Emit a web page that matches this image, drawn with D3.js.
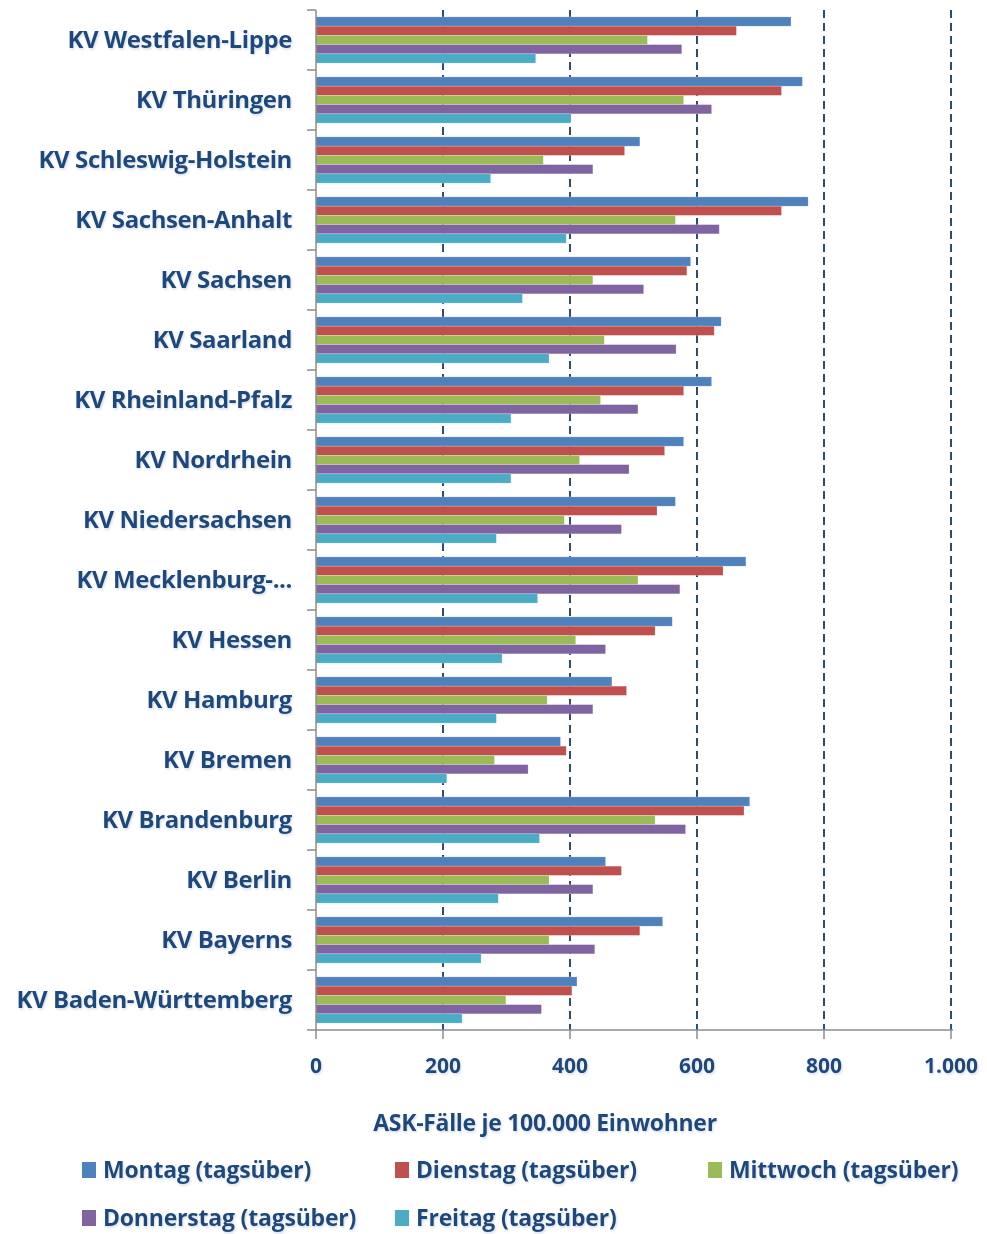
<!DOCTYPE html>
<html lang="de">
<head>
  <meta charset="utf-8">
  <script src="https://d3js.org/d3.v7.min.js"></script>
  <style>
    body { margin: 0; background: #fff; }
    svg text { font-family: "Open Sans", sans-serif; fill: #1F497D; font-weight: bold; }
    .cat-label { font-size: 24px; letter-spacing: -0.4px; }
    .tick-label { font-size: 21px; }
    .axis-title { font-size: 23px; letter-spacing: -0.3px; }
    .legend-label { font-size: 23px; letter-spacing: -0.2px; }
  </style>
</head>
<body>
<svg id="chart" width="987" height="1234"></svg>
<script>
  // Categories, top to bottom as drawn
  const categories = [
    "KV Westfalen-Lippe", "KV Thüringen", "KV Schleswig-Holstein", "KV Sachsen-Anhalt",
    "KV Sachsen", "KV Saarland", "KV Rheinland-Pfalz", "KV Nordrhein",
    "KV Niedersachsen", "KV Mecklenburg-...", "KV Hessen", "KV Hamburg",
    "KV Bremen", "KV Brandenburg", "KV Berlin", "KV Bayerns", "KV Baden-Württemberg"
  ];

  const seriesNames = [
    "Montag (tagsüber)", "Dienstag (tagsüber)", "Mittwoch (tagsüber)",
    "Donnerstag (tagsüber)", "Freitag (tagsüber)"
  ];
  const seriesColors = ["#4F81BD", "#C0504D", "#9BBB59", "#8064A2", "#4BACC6"];

  // values in the same order as categories
  const montag     = [748, 766, 510, 775, 590, 638, 623, 579, 566, 677, 561, 466, 385, 683, 456, 546, 411];
  const dienstag   = [662, 733, 486, 733, 584, 627, 579, 549, 537, 641, 534, 489, 394, 674, 481, 510, 403];
  const mittwoch   = [522, 579, 358, 566, 436, 454, 448, 415, 391, 507, 409, 364, 281, 534, 367, 367, 299];
  const donnerstag = [576, 623, 436, 635, 516, 567, 507, 493, 481, 573, 456, 436, 334, 582, 436, 439, 355];
  const freitag    = [346, 401, 275, 394, 325, 367, 307, 307, 284, 349, 293, 284, 206, 352, 287, 260, 230];

  const xTicks = [0, 200, 400, 600, 800, 1000];
  const xTickLabels = ["0", "200", "400", "600", "800", "1.000"];
  const axisTitle = "ASK-Fälle je 100.000 Einwohner";

  const seriesValues = [montag, dienstag, mittwoch, donnerstag, freitag];

  const svg = d3.select("#chart");

  // soft shadow behind the texts
  const defs = svg.append("defs");
  defs.append("filter")
    .attr("id", "shadow")
    .attr("x", "-5%").attr("y", "-20%").attr("width", "110%").attr("height", "150%")
    .append("feDropShadow")
    .attr("dx", 1).attr("dy", 1.5).attr("stdDeviation", 1)
    .attr("flood-color", "#9FB1CC").attr("flood-opacity", 0.45);

  const plotLeft = 316, plotRight = 951, plotTop = 10, plotBottom = 1030;

  const x = d3.scaleLinear().domain([0, 1000]).range([plotLeft, plotRight]);
  const y = d3.scaleBand().domain(categories).range([plotTop, plotBottom]).paddingInner(0.23).paddingOuter(0.115);
  const ySub = d3.scaleBand().domain(d3.range(seriesNames.length)).range([0, y.bandwidth()]);

  // dashed gridlines
  svg.append("g")
    .selectAll("line")
    .data(xTicks.filter(d => d > 0))
    .join("line")
    .attr("x1", d => x(d)).attr("x2", d => x(d))
    .attr("y1", plotTop).attr("y2", plotBottom)
    .attr("stroke", "#2C4D78")
    .attr("stroke-width", 2)
    .attr("stroke-dasharray", "8,5");

  // bars
  const groups = svg.append("g")
    .selectAll("g")
    .data(categories)
    .join("g")
    .attr("transform", d => `translate(0,${y(d)})`);

  groups.selectAll("rect")
    .data((c, i) => seriesValues.map((vals, s) => ({ s: s, v: vals[i] })))
    .join("rect")
    .attr("x", x(0))
    .attr("y", d => ySub(d.s))
    .attr("width", d => x(d.v) - x(0))
    .attr("height", ySub.bandwidth())
    .attr("fill", d => seriesColors[d.s])
    .attr("stroke", "#fff")
    .attr("stroke-opacity", 0.35)
    .attr("stroke-width", 0.6);

  // left axis (category)
  const yAxisScale = d3.scaleLinear().domain([0, categories.length]).range([plotTop, plotBottom]);
  const gy = svg.append("g");
  gy.append("line")
    .attr("x1", plotLeft).attr("x2", plotLeft)
    .attr("y1", plotTop).attr("y2", plotBottom)
    .attr("stroke", "#8C8C8C").attr("stroke-width", 1.5);
  gy.selectAll(".ytick")
    .data(d3.range(categories.length + 1))
    .join("line")
    .attr("class", "ytick")
    .attr("x1", plotLeft - 9).attr("x2", plotLeft)
    .attr("y1", d => yAxisScale(d)).attr("y2", d => yAxisScale(d))
    .attr("stroke", "#8C8C8C").attr("stroke-width", 1.5);

  gy.selectAll(".cat-label")
    .data(categories)
    .join("text")
    .attr("class", "cat-label")
    .attr("x", 292)
    .attr("y", d => y(d) + y.bandwidth() / 2)
    .attr("dy", "0.35em")
    .attr("text-anchor", "end")
    .attr("filter", "url(#shadow)")
    .text(d => d);

  // bottom axis
  const gx = svg.append("g");
  gx.append("line")
    .attr("x1", plotLeft).attr("x2", plotRight + 2)
    .attr("y1", plotBottom).attr("y2", plotBottom)
    .attr("stroke", "#8C8C8C").attr("stroke-width", 1.5);
  gx.selectAll(".xtick")
    .data(xTicks)
    .join("line")
    .attr("class", "xtick")
    .attr("x1", d => x(d)).attr("x2", d => x(d))
    .attr("y1", plotBottom).attr("y2", plotBottom + 9)
    .attr("stroke", "#8C8C8C").attr("stroke-width", 1.5);
  gx.selectAll(".tick-label")
    .data(xTicks)
    .join("text")
    .attr("class", "tick-label")
    .attr("x", d => x(d))
    .attr("y", 1073)
    .attr("text-anchor", "middle")
    .attr("filter", "url(#shadow)")
    .text((d, i) => xTickLabels[i]);

  svg.append("text")
    .attr("class", "axis-title")
    .attr("x", 545)
    .attr("y", 1131)
    .attr("text-anchor", "middle")
    .attr("filter", "url(#shadow)")
    .text(axisTitle);

  // legend
  const legendPos = [[82, 1170], [395, 1170], [708, 1170], [82, 1218], [395, 1218]];
  const legend = svg.append("g")
    .selectAll("g")
    .data(seriesNames)
    .join("g")
    .attr("transform", (d, i) => `translate(${legendPos[i][0]},${legendPos[i][1]})`);
  legend.append("rect")
    .attr("x", 0).attr("y", -8)
    .attr("width", 14).attr("height", 16)
    .attr("fill", (d, i) => seriesColors[i]);
  legend.append("text")
    .attr("class", "legend-label")
    .attr("x", 21)
    .attr("dy", "0.35em")
    .attr("filter", "url(#shadow)")
    .text(d => d);
</script>
</body>
</html>
